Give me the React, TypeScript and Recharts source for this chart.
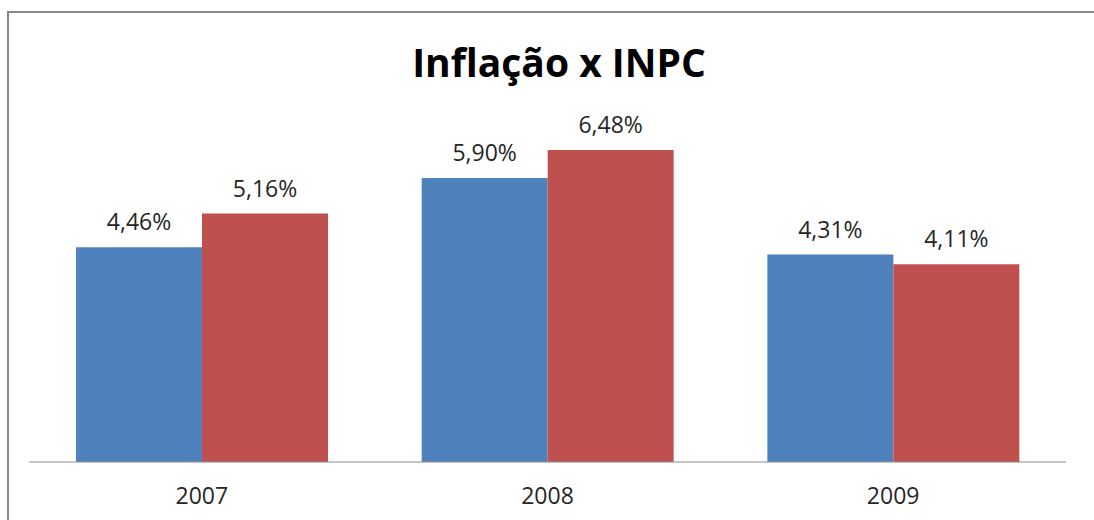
import { BarChart, Bar, XAxis, YAxis, LabelList } from "recharts";

const years = ["2007", "2008", "2009"];
const inflacao = [4.46, 5.9, 4.31];
const inpc = [5.16, 6.48, 4.11];

const data = years.map((year, i) => ({ year, inflacao: inflacao[i], inpc: inpc[i] }));

const FONT = "'Open Sans', sans-serif";

const fmt = (v: unknown) => `${Number(v).toFixed(2).replace(".", ",")}%`;

export default function App() {
  return (
    <div style={{ position: "absolute", left: 0, top: 0, width: 1094, height: 520, overflow: "hidden", background: "#fff" }}>
      <div
        style={{
          position: "absolute",
          left: 7,
          top: 11,
          width: 1087,
          height: 509,
          borderTop: "2px solid #878787",
          borderLeft: "2px solid #878787",
          boxSizing: "border-box",
        }}
      />
      <div
        style={{
          position: "absolute",
          left: 0,
          top: 40,
          width: 1118,
          textAlign: "center",
          fontFamily: FONT,
          fontWeight: 700,
          fontSize: 39,
          lineHeight: "44px",
          color: "#000",
        }}
      >
        Inflação x INPC
      </div>
      <div style={{ position: "absolute", left: 0, top: 0 }}>
        <BarChart
          width={1094}
          height={520}
          data={data}
          margin={{ top: 125, right: 28, bottom: 28, left: 29 }}
          barCategoryGap="13.6%"
          barGap={0}
        >
          <XAxis
            dataKey="year"
            height={30}
            tickLine={false}
            tickMargin={20}
            stroke="#8c8c8c"
            tick={{ fill: "#262626", fontSize: 23, fontFamily: FONT }}
          />
          <YAxis hide domain={[0, 7]} />
          <Bar dataKey="inflacao" fill="#4F81BD" isAnimationActive={false}>
            <LabelList
              dataKey="inflacao"
              position="top"
              offset={17}
              formatter={fmt}
              style={{ fill: "#262626", fontSize: 23, fontFamily: FONT }}
            />
          </Bar>
          <Bar dataKey="inpc" fill="#C0504D" isAnimationActive={false}>
            <LabelList
              dataKey="inpc"
              position="top"
              offset={17}
              formatter={fmt}
              style={{ fill: "#262626", fontSize: 23, fontFamily: FONT }}
            />
          </Bar>
        </BarChart>
      </div>
    </div>
  );
}
